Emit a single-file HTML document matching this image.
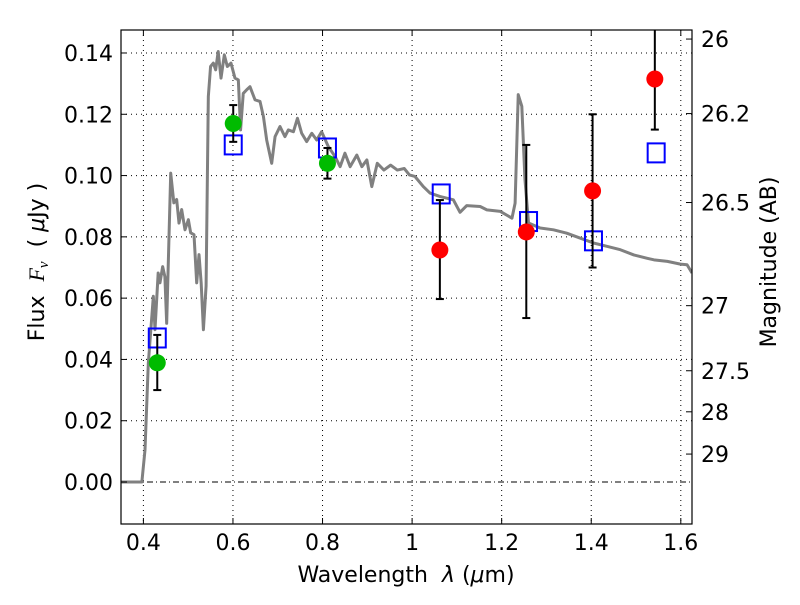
<!DOCTYPE html>
<html><head><meta charset="utf-8"><style>
body{margin:0;background:#fff;}
svg text{font-family:"DejaVu Sans","Liberation Sans",sans-serif;fill:#000;}
</style></head><body>
<svg id="chart" width="800" height="600" viewBox="0 0 800 600">
<rect width="800" height="600" fill="#fff"/>
<g id="grid"></g>
<g id="spec"></g>
<g id="marks"></g>
<g id="axes"></g>
<text x="406" y="582" font-size="22" text-anchor="middle">Wavelength&#160;&#160;<tspan font-style="italic">λ</tspan>&#160;(<tspan font-style="italic">μ</tspan>m)</text>
<text transform="translate(44,262) rotate(-90)" font-size="22" text-anchor="middle">Flux&#160;&#160;<tspan font-style="italic" font-family="Liberation Serif">F</tspan><tspan font-style="italic" font-size="15" dy="4" font-family="Liberation Serif">ν</tspan><tspan dy="-4">&#160;&#160;(&#160;</tspan><tspan font-style="italic">μ</tspan>Jy&#160;)</text>
<text transform="translate(776,262) rotate(-90)" font-size="22" text-anchor="middle">Magnitude (AB)</text>
</svg>
<script>
const specLam=[0.35,0.3966,0.4036,0.411,0.4222,0.4259,0.433,0.437,0.443,0.448,0.452,0.461,0.468,0.4743,0.4795,0.4855,0.4929,0.5004,0.5056,0.513,0.519,0.5242,0.529,0.534,0.54,0.545,0.55,0.5562,0.5614,0.567,0.5733,0.5807,0.5874,0.5956,0.6045,0.612,0.617,0.623,0.6307,0.638,0.6493,0.6604,0.668,0.6753,0.6865,0.694,0.705,0.716,0.7236,0.735,0.744,0.7534,0.7646,0.776,0.787,0.798,0.8131,0.828,0.8393,0.85,0.8617,0.8766,0.8878,0.899,0.91,0.9222,0.937,0.952,0.967,0.9826,0.994,1.0064,1.025,1.04,1.062,1.0921,1.107,1.122,1.152,1.167,1.197,1.223,1.23,1.237,1.245,1.252,1.26,1.286,1.3156,1.3454,1.375,1.405,1.435,1.465,1.495,1.525,1.54,1.57,1.599,1.614,1.625];
const specFlux=[0,0,0.0105,0.0388,0.0606,0.0497,0.0682,0.065,0.0703,0.067,0.0518,0.1008,0.0911,0.0922,0.0845,0.0889,0.0823,0.0856,0.0813,0.0807,0.065,0.0742,0.065,0.0497,0.064,0.1258,0.1356,0.1367,0.1345,0.1405,0.1318,0.1394,0.1356,0.1367,0.1318,0.1312,0.1149,0.1268,0.128,0.129,0.1247,0.1242,0.1193,0.1116,0.104,0.1127,0.116,0.1127,0.1149,0.1143,0.1187,0.1138,0.1111,0.1138,0.1116,0.1143,0.1094,0.1062,0.1029,0.1073,0.1029,0.1067,0.1029,0.1051,0.0964,0.104,0.1018,0.1034,0.1018,0.1023,0.1002,0.0997,0.0964,0.0943,0.0932,0.0921,0.088,0.0902,0.0899,0.0888,0.0883,0.0861,0.091,0.1264,0.1226,0.0987,0.0845,0.0829,0.0823,0.0812,0.0796,0.078,0.0769,0.0758,0.0741,0.073,0.0725,0.072,0.0711,0.0709,0.0682];
const greenLam=[0.431,0.6006,0.811];
const greenFlux=[0.0389,0.117,0.104];
const greenHi=[0.048,0.123,0.109];
const greenLo=[0.030,0.111,0.099];
const redLam=[1.062,1.255,1.403,1.542];
const redFlux=[0.0757,0.0816,0.095,0.1315];
const redHi=[0.092,0.110,0.120,0.16];
const redLo=[0.0597,0.0535,0.070,0.115];
const modelLam=[0.431,0.6006,0.811,1.065,1.26,1.405,1.545];
const modelFlux=[0.047,0.110,0.109,0.094,0.085,0.0787,0.1074];
const xTicks=[0.4,0.6,0.8,1.0,1.2,1.4,1.6];
const xTickLabels=["0.4","0.6","0.8","1","1.2","1.4","1.6"];
const yTicks=[0,0.02,0.04,0.06,0.08,0.1,0.12,0.14];
const yTickLabels=["0.00","0.02","0.04","0.06","0.08","0.10","0.12","0.14"];
const magTicks=[26,26.2,26.5,27,27.5,28,29];
const magTickLabels=["26","26.2","26.5","27","27.5","28","29"];

const L=121,R=692,T=30,B=524,X0=0.35,X1=1.625,Y0=-0.0137,Y1=0.1475;
const sx=v=>L+(v-X0)/(X1-X0)*(R-L);
const sy=v=>B-(v-Y0)/(Y1-Y0)*(B-T);
const NS="http://www.w3.org/2000/svg";
function mk(parent,tag,attrs){const e=document.createElementNS(NS,tag);for(const k in attrs)e.setAttribute(k,attrs[k]);parent.appendChild(e);return e;}
const grid=document.getElementById('grid'),spec=document.getElementById('spec'),marks=document.getElementById('marks'),axes=document.getElementById('axes');
const clip=mk(document.getElementById('chart'),'clipPath',{id:'pc'});mk(clip,'rect',{x:L,y:T,width:R-L,height:B-T});
spec.setAttribute('clip-path','url(#pc)');marks.setAttribute('clip-path','url(#pc)');

xTicks.forEach((v,i)=>{const x=sx(v);
 const g=mk(grid,'line',{x1:x,x2:x,y1:T,y2:B,stroke:'#000','stroke-width':1,'stroke-dasharray':'1,4'});
 
 mk(axes,'line',{x1:x,x2:x,y1:B,y2:B-6,stroke:'#000'});mk(axes,'line',{x1:x,x2:x,y1:T,y2:T+6,stroke:'#000'});
 const t=mk(axes,'text',{x:x,y:B+26,'font-size':22,'text-anchor':'middle'});t.textContent=xTickLabels[i];
 });
yTicks.forEach((v,i)=>{const y=sy(v);
 const g=mk(grid,'line',{x1:L,x2:R,y1:y,y2:y,stroke:'#000','stroke-width':1,'stroke-dasharray':v===0?'6,3,1,3':'1,4'});
 
 mk(axes,'line',{x1:L,x2:L+6,y1:y,y2:y,stroke:'#000'});
 const t=mk(axes,'text',{x:L-8,y:y+8,'font-size':22,'text-anchor':'end'});t.textContent=yTickLabels[i];
 });
magTicks.forEach((m,i)=>{const y=sy(Math.pow(10,(23.9-m)/2.5));
 mk(axes,'line',{x1:R,x2:R-6,y1:y,y2:y,stroke:'#000'});
 const t=mk(axes,'text',{x:R+9,y:y+8,'font-size':22});t.textContent=magTickLabels[i];
 });

const p=mk(spec,'polyline',{points:specLam.map((l,i)=>sx(l)+','+sy(specFlux[i])).join(' '),fill:'none',stroke:'#808080','stroke-width':3,'stroke-linejoin':'round'});


function err(x,hi,lo){const a=mk(marks,'g',{stroke:'#000','stroke-width':2});
 
 mk(a,'line',{x1:x,x2:x,y1:sy(hi),y2:sy(lo)});mk(a,'line',{x1:x-4,x2:x+4,y1:sy(hi),y2:sy(hi)});mk(a,'line',{x1:x-4,x2:x+4,y1:sy(lo),y2:sy(lo)});}
modelLam.forEach((l,i)=>{const r=mk(marks,'rect',{x:sx(l)-8.5,y:sy(modelFlux[i])-9.5,width:17,height:19,fill:'none',stroke:'#0000ff','stroke-width':2});
 });
greenLam.forEach((l,i)=>{err(sx(l),greenHi[i],greenLo[i]);
 const c=mk(marks,'circle',{cx:sx(l),cy:sy(greenFlux[i]),r:8.5,fill:'#00bb00'});
 });
redLam.forEach((l,i)=>{err(sx(l),redHi[i],redLo[i]);
 const c=mk(marks,'circle',{cx:sx(l),cy:sy(redFlux[i]),r:8.5,fill:'#ff0000'});
 });
const fr=mk(axes,'rect',{x:L,y:T,width:R-L,height:B-T,fill:'none',stroke:'#000','stroke-width':1.2});

</script>
</body></html>
